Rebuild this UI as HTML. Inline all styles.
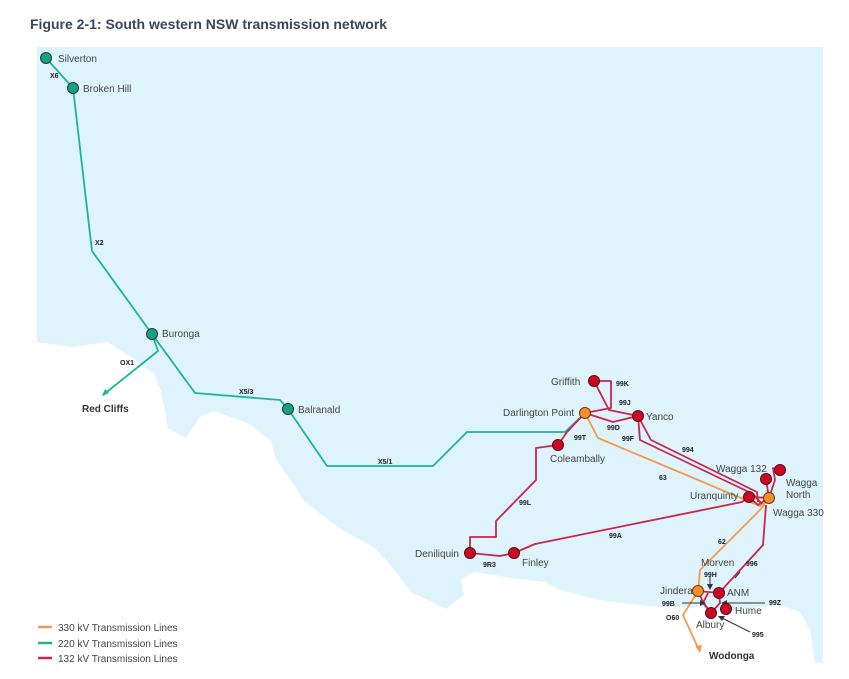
<!DOCTYPE html>
<html><head><meta charset="utf-8"><style>
html,body{margin:0;padding:0;background:#fff;}
svg{display:block;}
text{font-family:"Liberation Sans",sans-serif;}
.l{font-size:10px;fill:#444;}
.c{font-size:7px;font-weight:bold;fill:#222;}
</style></head><body>
<svg width="849" height="679" viewBox="0 0 849 679" xmlns="http://www.w3.org/2000/svg">
<text x="30" y="29" font-size="14" font-weight="bold" fill="#3a4656">Figure 2-1: South western NSW transmission network</text>
<rect x="37" y="47" width="786" height="616" fill="#def3fc"/>
<polygon fill="#ffffff" points="37,342 71,347 107,342 136,360 154,374 161,391 168,428 186,438 200,417 214,411 250,424 271,441 275,458 296,488 304,501 339,528 375,548 393,568 411,592 446,609 464,595 461,579 475,572 518,579 545,582 560,590 600,600 630,604 660,607 700,607 720,612 760,607 780,605 800,612 810,630 813,650 815,663 37,663"/>
<g fill="none" stroke-width="1.8" stroke-linejoin="round">
<!-- 220kV teal -->
<g stroke="#1fb39a">
<polyline points="46,58 73,88 92,251 152,334 195,393 280,400 288,409 327,466 433,466 467,432 565,432 585,413"/>
<polyline points="152,334 158,351 103,395"/>
</g>
<!-- 330kV orange -->
<g stroke="#f59a4a">
<polyline points="585,413 598,438 760,506 769,498"/>
<polyline points="769,498 760,510 700,570 698,591"/>
<polyline points="698,591 683,615 699,650"/>
</g>
<!-- 132kV red -->
<g stroke="#c8264a">
<polyline points="594,381 611,381 611,408 585,413"/>
<polyline points="594,381 609,410 638,416"/>
<polyline points="585,413 613,422 638,416"/>
<polyline points="585,413 567,432 558,445"/>
<polyline points="558,445 536,448 536,480 496,521 496,537 470,537 470,553"/>
<polyline points="470,553 500,556 514,553"/>
<polyline points="514,553 535,544 742,502 749,497"/>
<polyline points="638,416 651,440 757,492 758,502"/>
<polyline points="638,416 640,440 753,494 762,504"/>
<polyline points="749,497 769,498"/>
<polyline points="749,497 758,505 765,500"/>
<polyline points="769,498 766,479"/>
<polyline points="769,498 775,480 773,468 780,470"/>
<polyline points="766,505 763,545 719,593"/>
<polyline points="698,591 719,593"/>
<polyline points="698,591 703,602 711,613"/>
<polyline points="708,593 703,603 711,613"/>
<polyline points="719,593 720,603 711,613"/>
</g>
<!-- black arrows -->
<g stroke="#333" stroke-width="1">
<line x1="710" y1="576" x2="710" y2="588"/>
<line x1="682" y1="603" x2="703" y2="603"/>
<line x1="765" y1="603" x2="723" y2="603"/>
<line x1="750" y1="632" x2="720" y2="617"/>
<line x1="735" y1="578" x2="740" y2="572"/>
</g>
</g>
<g fill="#333">
<polygon points="710,590 707,584 713,584"/>
<polygon points="706,603 700,600 700,606"/>
<polygon points="721,603 727,600 727,606"/>
<polygon points="718,616 725,616 722,621"/>
</g>
<polygon points="102,396 105,389 109,393" fill="#1fb39a"/>
<polygon points="700,653 695,646 702,645" fill="#f59a4a"/>
<!-- nodes -->
<g stroke="#1d3b33" stroke-width="1">
<g fill="#17a085">
<circle cx="46" cy="58" r="5.5"/><circle cx="73" cy="88" r="5.5"/>
<circle cx="152" cy="334" r="5.5"/><circle cx="288" cy="409" r="5.5"/>
</g>
<g fill="#f7902b" stroke="#6a3a10">
<circle cx="585" cy="413" r="5.5"/><circle cx="769" cy="498" r="5.5"/><circle cx="698" cy="591" r="5.5"/>
</g>
<g fill="#cc0a24" stroke="#5a0a10">
<circle cx="594" cy="381" r="5.5"/><circle cx="638" cy="416" r="5.5"/><circle cx="558" cy="445" r="5.5"/>
<circle cx="470" cy="553" r="5.5"/><circle cx="514" cy="553" r="5.5"/><circle cx="749" cy="497" r="5.5"/>
<circle cx="766" cy="479" r="5.5"/><circle cx="780" cy="470" r="5.5"/><circle cx="719" cy="593" r="5.5"/>
<circle cx="726" cy="609" r="5.5"/><circle cx="711" cy="613" r="5.5"/>
</g>
</g>
<!-- node labels -->
<text class="l" x="58" y="62">Silverton</text>
<text class="l" x="83" y="92">Broken Hill</text>
<text class="l" x="162" y="337">Buronga</text>
<text class="l" x="298" y="413">Balranald</text>
<text x="82" y="412" font-size="10" font-weight="bold" fill="#333">Red Cliffs</text>
<text class="l" x="551" y="385">Griffith</text>
<text class="l" x="503" y="416">Darlington Point</text>
<text class="l" x="646" y="420">Yanco</text>
<text class="l" x="550" y="462">Coleambally</text>
<text class="l" x="415" y="557">Deniliquin</text>
<text class="l" x="522" y="566">Finley</text>
<text class="l" x="716" y="472">Wagga 132</text>
<text class="l" x="786" y="486">Wagga</text>
<text class="l" x="786" y="498">North</text>
<text class="l" x="690" y="499">Uranquinty</text>
<text class="l" x="773" y="516">Wagga 330</text>
<text class="l" x="701" y="566">Morven</text>
<text class="l" x="660" y="594">Jindera</text>
<text class="l" x="727" y="596">ANM</text>
<text class="l" x="735" y="614">Hume</text>
<text class="l" x="696" y="628">Albury</text>
<text x="709" y="659" font-size="10" font-weight="bold" fill="#333">Wodonga</text>
<!-- line codes -->
<text class="c" x="50" y="78">X6</text>
<text class="c" x="95" y="245">X2</text>
<text class="c" x="120" y="365">OX1</text>
<text class="c" x="239" y="394">X5/3</text>
<text class="c" x="378" y="464">X5/1</text>
<text class="c" x="616" y="386">99K</text>
<text class="c" x="619" y="405">99J</text>
<text class="c" x="607" y="430">99D</text>
<text class="c" x="574" y="440">99T</text>
<text class="c" x="622" y="441">99F</text>
<text class="c" x="682" y="452">994</text>
<text class="c" x="659" y="480">63</text>
<text class="c" x="519" y="505">99L</text>
<text class="c" x="609" y="538">99A</text>
<text class="c" x="483" y="567">9R3</text>
<text class="c" x="718" y="544">62</text>
<text class="c" x="746" y="566">996</text>
<text class="c" x="704" y="577">99H</text>
<text class="c" x="662" y="606">99B</text>
<text class="c" x="769" y="605">99Z</text>
<text class="c" x="666" y="620">O60</text>
<text class="c" x="752" y="637">995</text>
<!-- legend -->
<g stroke-width="2.5">
<line x1="38" y1="627" x2="52" y2="627" stroke="#f59a4a"/>
<line x1="38" y1="643" x2="52" y2="643" stroke="#1fb39a"/>
<line x1="38" y1="658" x2="52" y2="658" stroke="#c8264a"/>
</g>
<text class="l" x="58" y="631">330 kV Transmission Lines</text>
<text class="l" x="58" y="647">220 kV Transmission Lines</text>
<text class="l" x="58" y="662">132 kV Transmission Lines</text>
</svg>
</body></html>
